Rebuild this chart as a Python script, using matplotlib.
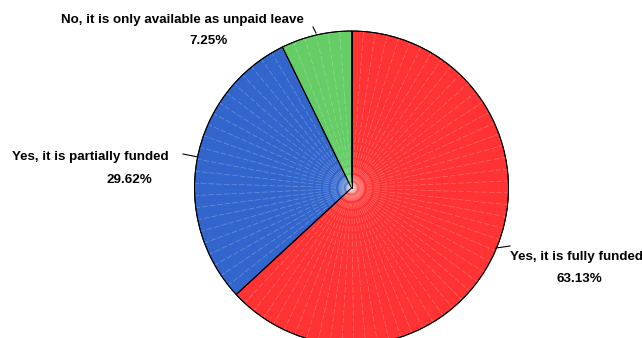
import numpy as np
import matplotlib
matplotlib.use("Agg")
import matplotlib.pyplot as plt

labels = ["Yes, it is fully funded", "Yes, it is partially funded", "No, it is only available as unpaid leave"]
values = [63.13, 29.62, 7.25]
pct_labels = ["63.13%", "29.62%", "7.25%"]
colors = ["#FF3333", "#3366CC", "#66CC66"]

W, H = 642, 338
fig = plt.figure(figsize=(W / 100, H / 100), dpi=100)
ax = fig.add_axes([0, 0, 1, 1])

cx, cy, r = 351.5, H - 188, 157
wedges, _ = ax.pie(values, colors=colors, startangle=90, counterclock=False,
                   center=(cx, cy), radius=r, frame=True,
                   wedgeprops=dict(edgecolor="black", linewidth=0.7))
ax.set_xlim(0, W)
ax.set_ylim(0, H)
ax.set_aspect("equal")
ax.axis("off")

# radial sheen lines
for w in wedges:
    t1, t2 = w.theta1, w.theta2
    n = max(int(round((t2 - t1) / 4.4)), 1)
    for a in np.linspace(t1, t2, n + 1)[1:-1]:
        rad = np.deg2rad(a)
        ax.plot([cx, cx + r * 0.995 * np.cos(rad)], [cy, cy + r * 0.995 * np.sin(rad)],
                color="white", lw=0.5, alpha=0.28, ls=(0, (8, 3)), zorder=3)
# soft center glow
for rr in np.linspace(14, 1, 26):
    ax.add_patch(plt.Circle((cx, cy), rr, color="white", alpha=0.018, lw=0, zorder=4))
# redraw boundaries on top
for w in wedges:
    rad = np.deg2rad(w.theta1)
    ax.plot([cx, cx + r * np.cos(rad)], [cy, cy + r * np.sin(rad)], color="black", lw=0.7, zorder=5)
ax.add_patch(plt.Circle((cx, cy), r, fill=False, ec="black", lw=0.7, zorder=5))

fkw = dict(fontsize=9.6, fontweight="bold", family=["Liberation Sans", "DejaVu Sans"], color="black")
# leader lines (pixel coords)
leaders = [((496, 248), (510, 246)), ((183, 154), (198, 157)), ((313, 27), (316, 33))]
for (x1, y1), (x2, y2) in leaders:
    ax.plot([x1, x2], [H - y1, H - y2], color="black", lw=0.8, zorder=6)

lab_pos = [(577, 257), (90, 157), (182, 20)]
pct_pos = [(579, 279), (129, 180), (208, 41)]
for lab, p, (lx, ly), (px, py) in zip(labels, pct_labels, lab_pos, pct_pos):
    ax.text(lx, H - ly, lab, ha="center", va="center", **fkw)
    ax.text(px, H - py, p, ha="center", va="center", **fkw)

fig.savefig("out.png", dpi=100)
